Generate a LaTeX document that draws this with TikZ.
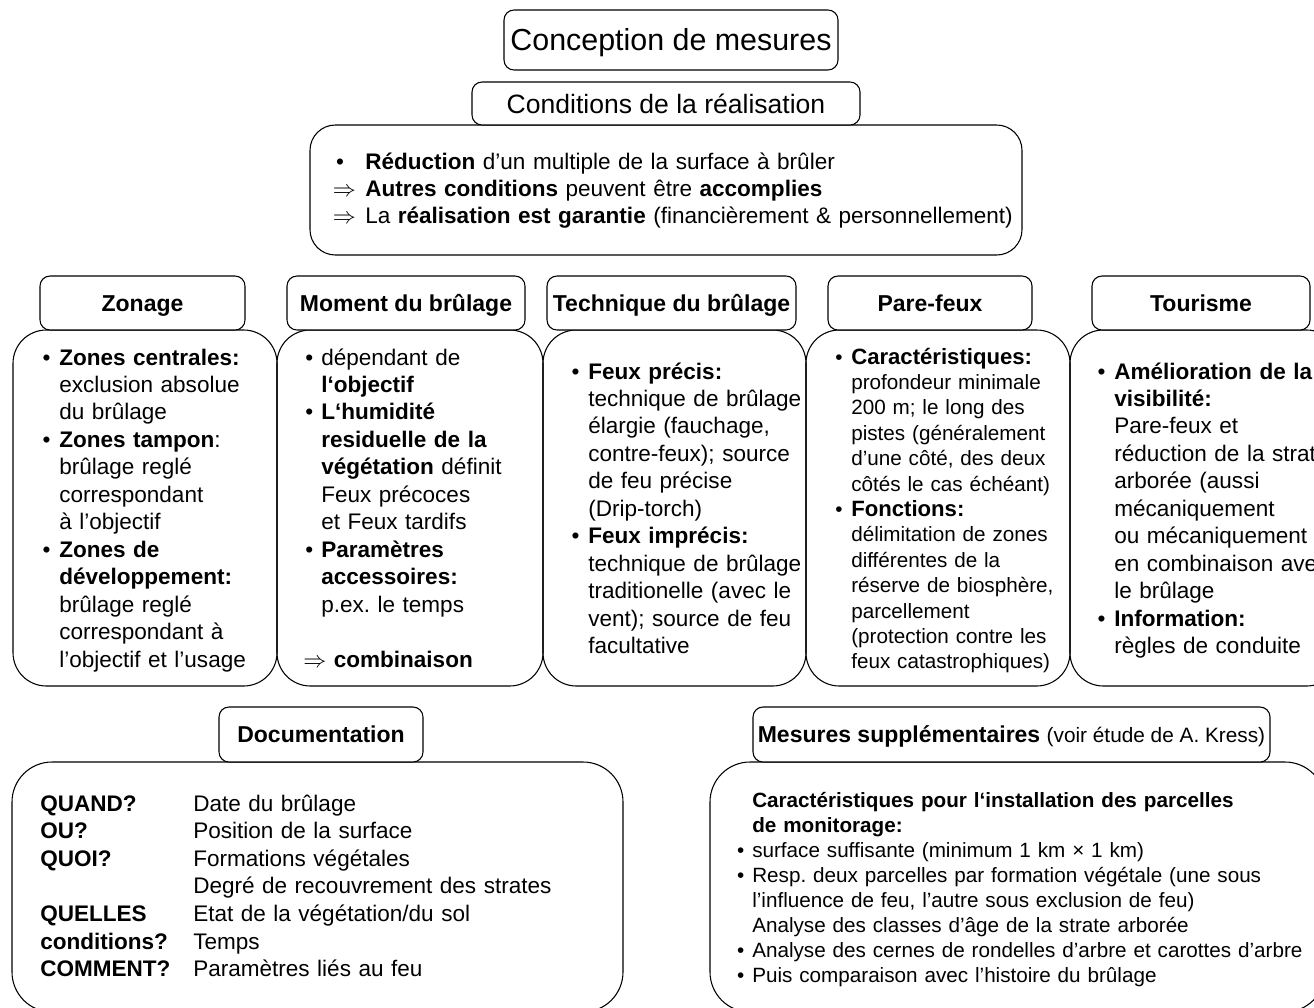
\documentclass[tikz,border=0pt]{standalone}
\usepackage{fontspec}
\setmainfont{Liberation Sans}
\usetikzlibrary{fit}
\frenchspacing
\newcommand\mybul[1][6.5pt]{\leavevmode\llap{\textbullet\hspace{#1}}}
\newcommand\myimpl[1][7pt]{\leavevmode\llap{$\Rightarrow$\hspace{#1}}}
\newcommand\pfb[1]{\textbf{\fontsize{16.6}{19.05}\selectfont #1}}
\begin{document}
\frenchspacing
\begin{tikzpicture}[x=0.75pt,y=-0.75pt,
  box/.style={draw, line width=0.8pt, inner sep=0pt},
  hdr/.style={box, fill=white, rounded corners=7.5pt},
  hdrtxt/.style={inner sep=0pt, anchor=base, yshift=-6pt, font=\fontsize{17.25}{20.6}\selectfont\bfseries},
  body/.style={box, rounded corners=25pt},
  txt/.style={anchor=base west, inner sep=0pt, align=left, text width=600pt, font=\fontsize{16.9}{20.6}\selectfont},
  smalltxt/.style={txt, font=\fontsize{15.5}{19.05}\selectfont},
  mestxt/.style={txt, font=\fontsize{15.5}{18.8}\selectfont}
]
\fill[white] (0,0) rectangle (1314,1007);
\path[use as bounding box] (0,0) rectangle (1314,1007);

% top
\node[hdr, fit={(504,10) (838,70)}] (conc) {};
\node[hdrtxt, yshift=-1.5pt, font=\fontsize{22.8}{26}\selectfont] (concL) at (conc.center) {Conception de mesures};
\node[body, rounded corners=19pt, fit={(310,125) (1022,255)}] (condB) {};
\node[hdr, fit={(472,82) (860,125)}] (condH) {};
\node[hdrtxt, yshift=-1.8pt, font=\fontsize{19.9}{24}\selectfont] (condL) at (condH.center) {Conditions de la réalisation};
\node[txt] (condT) at (365,169) {%
\mybul[16pt]\textbf{Réduction} d'un multiple de la surface à brûler\\
\myimpl\textbf{Autres conditions} peuvent être \textbf{accomplies}\\
\myimpl La \textbf{réalisation est garantie} (financièrement \& personnellement)};

% column bodies
\node[body, fit={(13,330) (277,686)}] (zonB) {};
\node[body, fit={(277,330) (543,686)}] (momB) {};
\node[body, fit={(543,330) (806,686)}] (tecB) {};
\node[body, fit={(806,330) (1070,686)}] (parB) {};
\node[body, fit={(1070,330) (1340,686)}] (touB) {};

% column headers
\node[hdr, fit={(40,276) (245,330)}] (zonH) {};
\node[hdr, fit={(287,276) (525,330)}] (momH) {};
\node[hdr, fit={(547,276) (796,330)}] (tecH) {};
\node[hdr, fit={(828,276) (1032,330)}] (parH) {};
\node[hdr, fit={(1092,276) (1310,330)}] (touH) {};
\node[hdrtxt] (zonL) at (zonH.center) {Zonage};
\node[hdrtxt] (momL) at (momH.center) {Moment du brûlage};
\node[hdrtxt] (tecL) at (tecH.center) {Technique du brûlage};
\node[hdrtxt] (parL) at (parH.center) {Pare-feux};
\node[hdrtxt] (touL) at (touH.center) {Tourisme};

% column texts
\node[txt] (zonT) at (59,365) {%
\mybul\textbf{Zones centrales:}\\
exclusion absolue\\
du brûlage\\
\mybul\textbf{Zones tampon}:\\
brûlage reglé\\
correspondant\\
à l'objectif\\
\mybul\textbf{Zones de}\\
\textbf{développement:}\\
brûlage reglé\\
correspondant à\\
l'objectif et l'usage};

\node[txt] (momT) at (321,365) {%
\mybul[6pt]dépendant de\\
\textbf{l‘objectif}\\
\mybul[6pt]\textbf{L‘humidité}\\
\textbf{residuelle de la}\\
\textbf{végétation} définit\\
Feux précoces\\
et Feux tardifs\\
\mybul[6pt]\textbf{Paramètres}\\
\textbf{accessoires:}\\
p.ex. le temps\\[20.6pt]
\hspace*{-13.5pt}$\Rightarrow$ \textbf{combinaison}};

\node[txt] (tecT) at (588,379) {%
\mybul\textbf{Feux précis:}\\
technique de brûlage\\
élargie (fauchage,\\
contre-feux); source\\
de feu précise\\
(Drip-torch)\\
\mybul\textbf{Feux imprécis:}\\
technique de brûlage\\
traditionelle (avec le\\
vent); source de feu\\
facultative};

\node[smalltxt] (parT) at (851,364) {%
\mybul\pfb{Caractéristiques:}\\
profondeur minimale\\
200 m; le long des\\
pistes (généralement\\
d'une côté, des deux\\
côtés le cas échéant)\\
\mybul\pfb{Fonctions:}\\
délimitation de zones\\
différentes de la\\
réserve de biosphère,\\
parcellement\\
(protection contre les\\
feux catastrophiques)};

\node[txt] (touT) at (1114,379) {%
\mybul\textbf{Amélioration de la}\\
\textbf{visibilité:}\\
Pare-feux et\\
réduction de la strate\\
arborée (aussi\\
mécaniquement\\
ou mécaniquement\\
en combinaison avec\\
le brûlage\\
\mybul\textbf{Information:}\\
règles de conduite};

% bottom boxes
\node[body, rounded corners=30pt, fit={(12,762) (623,1012)}] (docB) {};
\node[body, rounded corners=30pt, fit={(710,762) (1325,1012)}] (mesB) {};
\node[hdr, fit={(219,707) (423,762)}] (docH) {};
\node[hdr, fit={(753,707) (1270,762)}] (mesH) {};
\node[hdrtxt] (docL0) at (docH.center) {Documentation};
\node[hdrtxt] (mesL0) at (mesH.center) {Mesures supplémentaires {\mdseries\fontsize{15.6}{18}\selectfont(voir étude de A. Kress)}};

\node[txt, text width=150pt, font=\fontsize{16.9}{20.7}\selectfont\bfseries] (docL) at (40,811) {%
QUAND?\\
OU?\\
QUOI?\\
\strut\\
QUELLES\\
conditions?\\
COMMENT?};
\node[txt, font=\fontsize{16.9}{20.7}\selectfont] (docV) at (193,811) {%
Date du brûlage\\
Position de la surface\\
Formations végétales\\
Degré de recouvrement des strates\\
Etat de la végétation/du sol\\
Temps\\
Paramètres liés au feu};

\node[mestxt] (mesT) at (752,807) {%
\textbf{Caractéristiques pour l‘installation des parcelles}\\
\textbf{de monitorage:}\\
\mybul[6pt]surface suffisante (minimum 1 km × 1 km)\\
\mybul[6pt]Resp. deux parcelles par formation végétale (une sous\\
l'influence de feu, l'autre sous exclusion de feu)\\
Analyse des classes d'âge de la strate arborée\\
\mybul[6pt]Analyse des cernes de rondelles d'arbre et carottes d'arbre\\
\mybul[6pt]Puis comparaison avec l'histoire du brûlage};
\end{tikzpicture}
\end{document}
